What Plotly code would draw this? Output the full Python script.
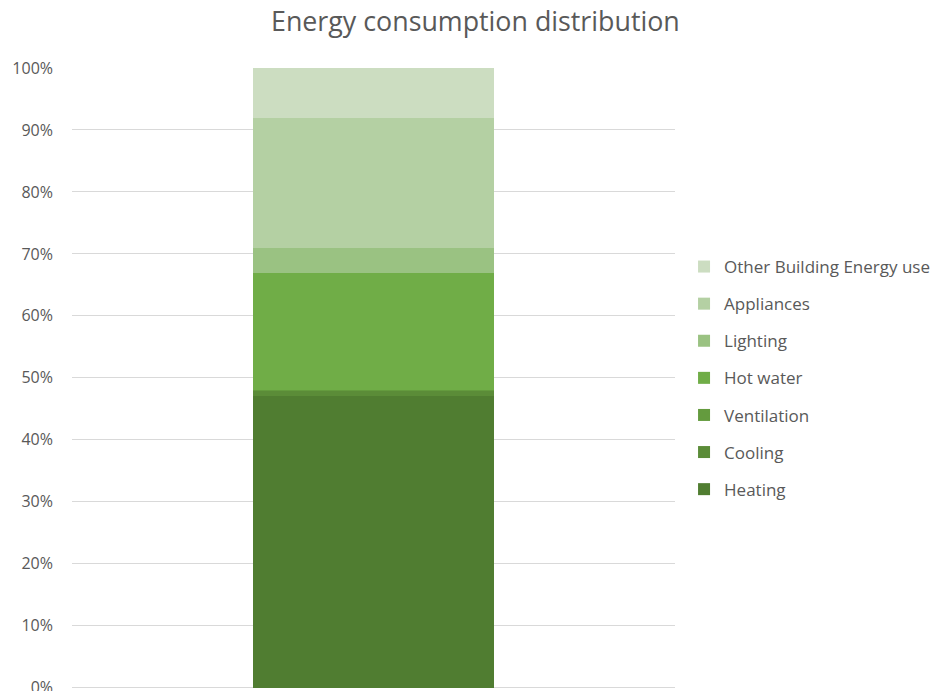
import plotly.graph_objects as go

# Share of total building energy use by end use (percent)
categories = ["Energy use"]
end_uses = ["Heating", "Cooling", "Ventilation", "Hot water", "Lighting",
            "Appliances", "Other Building Energy use"]
shares = [47.0, 1.0, 0.1, 18.9, 4.0, 21.0, 8.0]
colors = ["#507D31", "#5B8C38", "#649B3E", "#70AD47", "#9AC282",
          "#B4D0A3", "#CCDDC1"]
tick_vals = [0, 10, 20, 30, 40, 50, 60, 70, 80, 90, 100]
tick_text = [f"{v}%" for v in tick_vals]

fig = go.Figure()
n = len(end_uses)
for i, (name, val, col) in enumerate(zip(end_uses, shares, colors)):
    fig.add_trace(go.Bar(
        x=categories, y=[val], name=name, legendgroup=name,
        legendrank=n - i,
        marker=dict(color=col, line=dict(width=0)),
        hovertemplate="%{y:.1f}%<extra>" + name + "</extra>",
    ))

fig.update_layout(
    barmode="stack",
    bargap=0.6,
    width=934, height=691,
    margin=dict(l=72, r=259, t=68, b=3, autoexpand=False),
    paper_bgcolor="white", plot_bgcolor="white",
    font=dict(family="Open Sans, Noto Sans, sans-serif", color="#595959", size=15),
    title=dict(text="Energy consumption distribution", x=0.509, xanchor="center",
               y=0.968, yanchor="middle",
               font=dict(size=26.8, color="#595959")),
    xaxis=dict(showticklabels=False, showgrid=False, zeroline=False,
               showline=False, ticks="", automargin=False),
    yaxis=dict(range=[-0.05, 100], tickvals=tick_vals, ticktext=tick_text,
               showgrid=True, gridcolor="#D9D9D9", gridwidth=1,
               zeroline=True, zerolinecolor="#D9D9D9", zerolinewidth=1,
               showline=False, ticks="", automargin=False,
               ticklabelstandoff=18, ticklabeloverflow="allow",
               tickfont=dict(size=16, color="#595959")),
    legend=dict(traceorder="grouped", tracegroupgap=12,
                x=1.015, xanchor="left", y=0.5, yanchor="middle",
                font=dict(size=17, color="#595959"),
                itemwidth=30),
    showlegend=True,
)

fig.write_html("out.html")
